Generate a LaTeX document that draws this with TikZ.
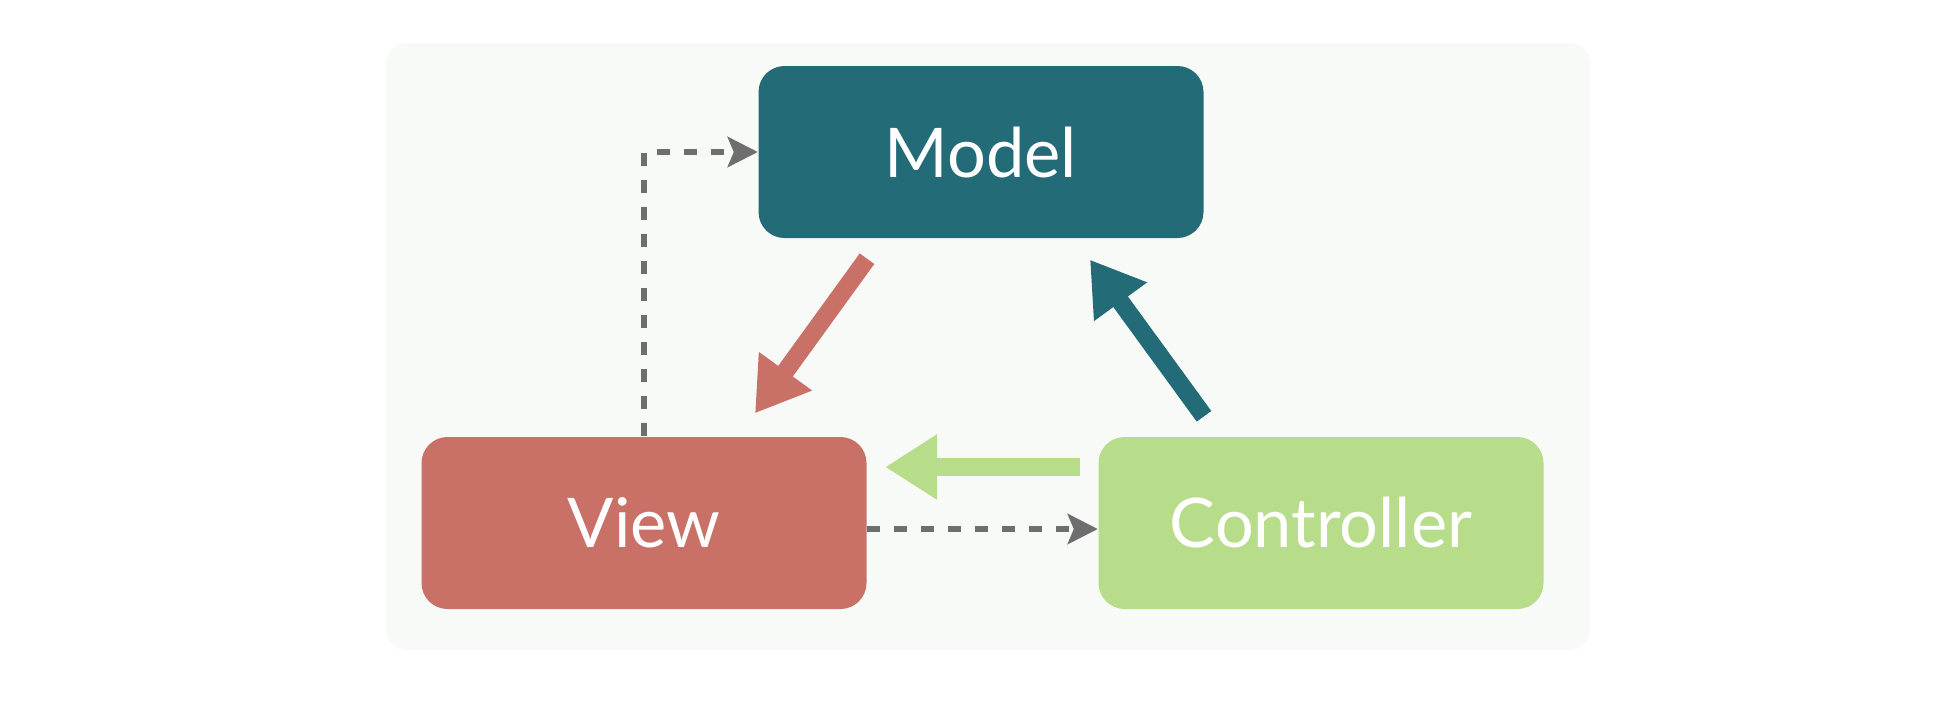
\documentclass[tikz,border=0pt]{standalone}
\usepackage{fontspec}
\setmainfont{Lato}
\usetikzlibrary{arrows.meta}
\definecolor{modelcol}{HTML}{236B77}
\definecolor{viewcol}{HTML}{C97167}
\definecolor{ctrlcol}{HTML}{B8DD8A}
\definecolor{bgcol}{HTML}{F8FAF8}
\definecolor{dashcol}{HTML}{6E6E6E}
\begin{document}
\begin{tikzpicture}[
        box/.style={
            rectangle,
            rounded corners=0.26cm,
            text=white,
            font=\fontsize{19.5}{23}\selectfont,
            minimum width=4.45cm,
            minimum height=1.72cm
        },
        fat/.style={
            line width=0.18cm,
            -{Triangle[length=0.52cm,width=0.62cm]}
        },
        dasharrow/.style={
            dashcol,
            line width=1.9pt,
            dash pattern=on 0.13cm off 0.14cm,
            -{Stealth[length=0.3cm,width=0.3cm,inset=0.06cm]}
        }
    ]
    \useasboundingbox (0,0) rectangle (19.51,7.00);
    \fill[bgcol, rounded corners=0.2cm] (3.86,0.50) rectangle (15.90,6.57);

    % Main boxes
    \node[box, fill=modelcol] (M) at (9.81,5.48) {Model};
    \node[box, fill=viewcol] (V) at (6.44,1.77) {View};
    \node[box, fill=ctrlcol] (C) at (13.21,1.77) {Controller};

    % Free ends of the thick arrows
    \coordinate (r1) at ([xshift=-1.14cm,yshift=-0.2cm]M.south);
    \coordinate (r2) at ([xshift=1.11cm,yshift=0.23cm]V.north);
    \coordinate (t1) at ([xshift=-1.17cm,yshift=0.2cm]C.north);
    \coordinate (t2) at ([xshift=1.09cm,yshift=-0.21cm]M.south);
    \coordinate (g1) at ([xshift=-0.18cm,yshift=0.56cm]C.west);
    \coordinate (g2) at ([xshift=0.18cm,yshift=0.56cm]V.east);

    % Connections
    \draw[fat, viewcol] (r1) -- (r2);
    \draw[fat, modelcol] (t1) -- (t2);
    \draw[fat, ctrlcol] (g1) -- (g2);

    \draw[dasharrow] (V.north) |- (M.west);
    \draw[dasharrow] ([yshift=-0.06cm]V.east) -- ([yshift=-0.06cm]C.west);

\end{tikzpicture}
\end{document}
